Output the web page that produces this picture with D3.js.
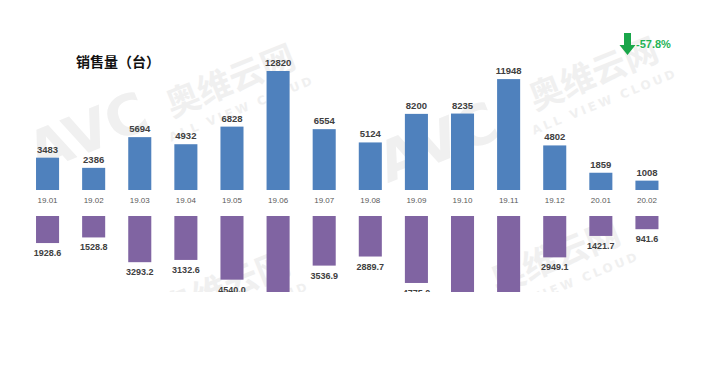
<!DOCTYPE html>
<html>
<head>
<meta charset="utf-8">
<script src="https://cdn.jsdelivr.net/npm/d3@7"></script>
<style>
  html, body { margin: 0; padding: 0; background: #fff; }
  svg { display: block; }
</style>
</head>
<body>
<div id="chart"></div>
<script>
const months = ['19.01', '19.02', '19.03', '19.04', '19.05', '19.06', '19.07', '19.08', '19.09', '19.10', '19.11', '19.12', '20.01', '20.02'];
const salesVolume = [3483, 2386, 5694, 4932, 6828, 12820, 6554, 5124, 8200, 8235, 11948, 4802, 1859, 1008];
// lower series; 19.06, 19.10, 19.11 are cut off in the picture, estimated
const salesValue = [1928.6, 1528.8, 3293.2, 3132.6, 4540.0, 7700, 3536.9, 2889.7, 4775.0, 5600, 7200, 2949.1, 1421.7, 941.6];
const changeLabel = '-57.8%';

const width = 726, height = 375;

const svg = d3.select('#chart').append('svg')
    .attr('width', width)
    .attr('height', height);

// the picture is cut off below y = 292
svg.append('clipPath').attr('id', 'page')
    .append('rect').attr('x', 0).attr('y', 0).attr('width', width).attr('height', 292);

// faint watermark
const marks = [
    { x: 95, y: 150, big: 'AVC', sub: '' },
    { x: 235, y: 92, big: '奥维云网', sub: 'ALL VIEW CLOUD' },
    { x: 445, y: 160, big: 'AVC', sub: '' },
    { x: 598, y: 85, big: '奥维云网', sub: 'ALL VIEW CLOUD' },
    { x: 560, y: 268, big: '奥维云网', sub: 'ALL VIEW CLOUD' },
    { x: 230, y: 298, big: '奥维云网', sub: 'ALL VIEW CLOUD' }
];
const wm = svg.append('g').attr('fill', '#f0f0f0').attr('clip-path', 'url(#page)');
marks.forEach(m => {
    const g = wm.append('g').attr('transform', `translate(${m.x},${m.y}) rotate(-22)`);
    g.append('text')
        .attr('text-anchor', 'middle')
        .attr('font-family', m.big === 'AVC' ? 'DejaVu Sans' : 'Noto Sans CJK SC')
        .attr('font-weight', 'bold')
        .attr('font-size', m.big === 'AVC' ? 56 : 34)
        .text(m.big);
    if (m.sub) {
        g.append('text')
            .attr('y', 22)
            .attr('text-anchor', 'middle')
            .attr('font-family', 'DejaVu Sans')
            .attr('font-weight', 'bold')
            .attr('font-size', 12)
            .attr('letter-spacing', 3)
            .text(m.sub);
    }
});

const x = d3.scaleBand()
    .domain(months)
    .range([24.5, 670])
    .paddingInner(0.5)
    .paddingOuter(0.25);

const yTop = d3.scaleLinear()
    .domain([0, 12820])
    .range([190, 71]);

const yBottom = d3.scaleLinear()
    .domain([0, 7130])
    .range([216, 316]);

// title
svg.append('text')
    .attr('x', 76)
    .attr('y', 67)
    .attr('font-family', 'Noto Sans CJK SC')
    .attr('font-weight', 'bold')
    .attr('font-size', 14)
    .attr('fill', '#111')
    .text('销售量（台）');

// upper bars
svg.append('g').selectAll('rect')
    .data(salesVolume)
    .join('rect')
    .attr('x', (d, i) => x(months[i]))
    .attr('y', d => yTop(d))
    .attr('width', x.bandwidth())
    .attr('height', d => yTop(0) - yTop(d))
    .attr('fill', '#4f81bd');

svg.append('g').selectAll('text')
    .data(salesVolume)
    .join('text')
    .attr('x', (d, i) => x(months[i]) + x.bandwidth() / 2)
    .attr('y', d => yTop(d) - 5)
    .attr('text-anchor', 'middle')
    .attr('font-family', 'Liberation Sans, Arial, sans-serif')
    .attr('font-weight', 'bold')
    .attr('font-size', 9.5)
    .attr('fill', '#404040')
    .text(d => d);

// category axis labels
const xAxis = d3.axisBottom(x).tickSize(0).tickPadding(0);
svg.append('g')
    .attr('transform', 'translate(0,197)')
    .call(xAxis)
    .call(g => g.select('.domain').remove())
    .call(g => g.selectAll('text')
        .attr('font-family', 'Liberation Sans, Arial, sans-serif')
        .attr('font-size', 8)
        .attr('fill', '#595959'));

// lower bars, clipped at the picture's cut line
const lower = svg.append('g').attr('clip-path', 'url(#page)');

lower.selectAll('rect')
    .data(salesValue)
    .join('rect')
    .attr('x', (d, i) => x(months[i]))
    .attr('y', yBottom(0))
    .attr('width', x.bandwidth())
    .attr('height', d => yBottom(d) - yBottom(0))
    .attr('fill', '#8064a2');

lower.selectAll('text')
    .data(salesValue)
    .join('text')
    .attr('x', (d, i) => x(months[i]) + x.bandwidth() / 2)
    .attr('y', d => yBottom(d) + 13)
    .attr('text-anchor', 'middle')
    .attr('font-family', 'Liberation Sans, Arial, sans-serif')
    .attr('font-weight', 'bold')
    .attr('font-size', 9)
    .attr('fill', '#404040')
    .text(d => d.toFixed(1));

// change arrow
const ax = 627.5;
svg.append('path')
    .attr('d', `M${ax - 3.5},33 H${ax + 3.5} V45 H${ax + 8} L${ax},55 L${ax - 8},45 H${ax - 3.5} Z`)
    .attr('fill', '#1aa64a');

svg.append('text')
    .attr('x', 636)
    .attr('y', 48)
    .attr('font-family', 'Liberation Sans, Arial, sans-serif')
    .attr('font-weight', 'bold')
    .attr('font-size', 11)
    .attr('fill', '#1fb356')
    .text(changeLabel);
</script>
</body>
</html>
